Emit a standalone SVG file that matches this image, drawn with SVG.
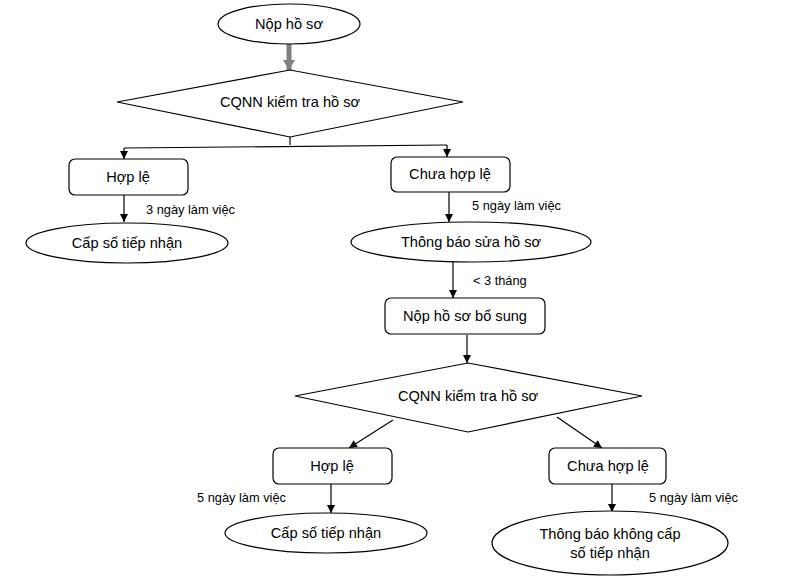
<svg xmlns="http://www.w3.org/2000/svg" width="788" height="580" viewBox="0 0 788 580">
<style>
.n{fill:#fff;stroke:#000;stroke-width:1.2}
.t{font-family:"Liberation Sans",Arial,sans-serif;font-size:14.6px;fill:#000;text-anchor:middle;dominant-baseline:central}
.l{font-family:"Liberation Sans",Arial,sans-serif;font-size:12.8px;fill:#000}
.c{fill:none;stroke:#000;stroke-width:1.2}
</style>
<defs>
<marker id="ah" markerWidth="10" markerHeight="10" refX="9" refY="5" orient="auto" markerUnits="userSpaceOnUse">
<path d="M1,1 L9,5 L1,9 Z" fill="#000"/>
</marker>
<marker id="ahg" markerWidth="12" markerHeight="12" refX="10" refY="6" orient="auto" markerUnits="userSpaceOnUse">
<path d="M0,0 L10,6 L0,12 Z" fill="#808080"/>
</marker>
</defs>
<rect width="788" height="580" fill="#fff"/>
<g id="connectors">
<line x1="289" y1="44" x2="289" y2="70" stroke="#808080" stroke-width="5" marker-end="url(#ahg)"/>
<polyline class="c" points="290,137 290,145"/>
<line class="c" x1="124" y1="148" x2="447" y2="145"/>
<line class="c" x1="124" y1="148" x2="124" y2="159" marker-end="url(#ah)"/>
<line class="c" x1="447" y1="145" x2="447" y2="157" marker-end="url(#ah)"/>
<line class="c" x1="124" y1="195" x2="124" y2="222" marker-end="url(#ah)"/>
<line class="c" x1="449" y1="192" x2="449" y2="222" marker-end="url(#ah)"/>
<line class="c" x1="453" y1="262" x2="453" y2="298" marker-end="url(#ah)"/>
<line class="c" x1="467" y1="335" x2="467" y2="363" marker-end="url(#ah)"/>
<line class="c" x1="393" y1="420" x2="349" y2="448" marker-end="url(#ah)"/>
<line class="c" x1="557" y1="417" x2="602" y2="448" marker-end="url(#ah)"/>
<line class="c" x1="331" y1="484" x2="331" y2="513" marker-end="url(#ah)"/>
<line class="c" x1="612" y1="484" x2="612" y2="512" marker-end="url(#ah)"/>
</g>
<g id="labels">
<text class="l" x="146" y="214">3 ngày làm việc</text>
<text class="l" x="472" y="210">5 ngày làm việc</text>
<text class="l" x="473" y="285">&lt; 3 tháng</text>
<text class="l" x="197" y="502">5 ngày làm việc</text>
<text class="l" x="649" y="502">5 ngày làm việc</text>
</g>
<g id="n1"><ellipse class="n" cx="289" cy="24" rx="71" ry="20"/><text class="t" x="289" y="24">Nộp hồ sơ</text></g>
<g id="n2"><polygon class="n" points="117,102 290,70 463,102 290,137"/><text class="t" x="290" y="102">CQNN kiểm tra hồ sơ</text></g>
<g id="n3"><rect class="n" x="69" y="159" width="119" height="36" rx="6"/><text class="t" x="128" y="177">Hợp lệ</text></g>
<g id="n4"><rect class="n" x="391" y="157" width="119" height="35" rx="6"/><text class="t" x="450" y="174">Chưa hợp lệ</text></g>
<g id="n5"><ellipse class="n" cx="127" cy="243" rx="101" ry="20"/><text class="t" x="127" y="243">Cấp số tiếp nhận</text></g>
<g id="n6"><ellipse class="n" cx="471" cy="242" rx="120" ry="20"/><text class="t" x="471" y="242">Thông báo sửa hồ sơ</text></g>
<g id="n7"><rect class="n" x="385" y="298" width="160" height="36" rx="6"/><text class="t" x="465" y="316">Nộp hồ sơ bổ sung</text></g>
<g id="n8"><polygon class="n" points="295,396 468,363 642,396 468,432"/><text class="t" x="468" y="396">CQNN kiểm tra hồ sơ</text></g>
<g id="n9"><rect class="n" x="273" y="448" width="119" height="36" rx="6"/><text class="t" x="332" y="466">Hợp lệ</text></g>
<g id="n10"><rect class="n" x="549" y="448" width="117" height="36" rx="6"/><text class="t" x="608" y="466">Chưa hợp lệ</text></g>
<g id="n11"><ellipse class="n" cx="326" cy="533" rx="101" ry="20"/><text class="t" x="326" y="533">Cấp số tiếp nhận</text></g>
<g id="n12"><ellipse class="n" cx="610" cy="543" rx="118" ry="32"/><text class="t" x="610" y="534">Thông báo không cấp</text><text class="t" x="610" y="553">số tiếp nhận</text></g>
</svg>
